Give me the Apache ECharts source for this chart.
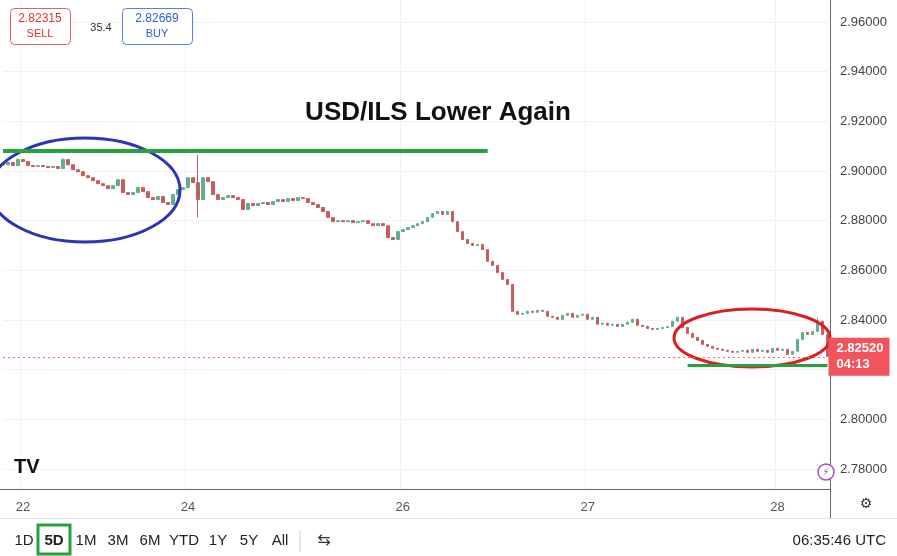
<!DOCTYPE html>
<html><head><meta charset="utf-8">
<script src="https://cdn.jsdelivr.net/npm/echarts@6/dist/echarts.min.js"></script>
<style>html,body{margin:0;padding:0;background:#fff}#c{width:897px;height:556px}</style>
</head><body><div id="c"></div>
<script>
const closes = [2.9025,2.9034,2.9022,2.9046,2.9038,2.9022,2.9018,2.9022,2.9018,2.9014,
2.9018,2.9010,2.9046,2.9025,2.9005,2.8997,2.8981,2.8973,2.8961,2.8949,
2.8941,2.8929,2.8941,2.8965,2.8913,2.8905,2.8913,2.8933,2.8917,2.8893,
2.8885,2.8897,2.8873,2.8865,2.8905,2.8925,2.8933,2.8973,2.8953,2.8885,
2.8973,2.8957,2.8905,2.8885,2.8893,2.8901,2.8893,2.8885,2.8845,2.8869,
2.8861,2.8869,2.8873,2.8865,2.8877,2.8885,2.8877,2.8889,2.8881,2.8893,
2.8889,2.8873,2.8865,2.8853,2.8837,2.8813,2.8796,2.8800,2.8796,2.8800,
2.8792,2.8796,2.8800,2.8788,2.8780,2.8788,2.8780,2.8732,2.8724,2.8756,
2.8764,2.8772,2.8780,2.8788,2.8796,2.8813,2.8829,2.8837,2.8825,2.8837,
2.8796,2.8756,2.8724,2.8708,2.8700,2.8704,2.8684,2.8636,2.8620,2.8591,
2.8563,2.8543,2.8435,2.8423,2.8427,2.8435,2.8431,2.8439,2.8435,2.8415,
2.8411,2.8403,2.8419,2.8427,2.8411,2.8419,2.8423,2.8403,2.8411,2.8383,
2.8387,2.8379,2.8383,2.8374,2.8383,2.8391,2.8403,2.8379,2.8374,2.8366,
2.8362,2.8366,2.8370,2.8374,2.8395,2.8411,2.8370,2.8346,2.8330,2.8318,
2.8302,2.8294,2.8286,2.8282,2.8278,2.8274,2.8270,2.8274,2.8278,2.8270,
2.8282,2.8274,2.8278,2.8270,2.8286,2.8278,2.8282,2.8262,2.8274,2.8322,
2.8350,2.8342,2.8354,2.8395,2.8342,2.8254];
const firstOpen = 2.9030;
const spikes = {39:[2.8813,2.9066], 12:[2.9040,2.9052], 3:[2.9018,2.9052], 163:[2.8380,2.8410]};
const dayLabels = {4:'22',37:'24',80:'26',117:'27',155:'28'};
const yTicks = [2.78,2.80,2.82,2.84,2.86,2.88,2.90,2.92,2.94,2.96];
const resistance = 2.9082, support = 2.8218, lastPrice = 2.8252;

const cats = closes.map((_,i)=>i);
const N = closes.length - 1;
const ohlc = closes.map((c,i)=>{
  const o = i===0?firstOpen:closes[i-1];
  let lo=Math.min(o,c), hi=Math.max(o,c);
  if(spikes[i]){lo=Math.min(lo,spikes[i][0]);hi=Math.max(hi,spikes[i][1]);}
  return [o,c,lo,hi];
});
const chart = echarts.init(document.getElementById('c'));
const F='Liberation Sans, Arial, sans-serif';
const NF='"Liberation Sans Narrow", "Liberation Sans", sans-serif';
const gridLines = yTicks.map(v=>[{coord:[0,v],lineStyle:{color:'#eef1f5',width:1,type:'solid'},label:{show:false}},{coord:[N,v]}]);
chart.setOption({
  animation:false,
  grid:{left:0,right:67,top:0,height:489},
  xAxis:{type:'category',data:cats,boundaryGap:true,
    axisLine:{show:true,lineStyle:{color:'#666'}},axisTick:{show:false},
    axisLabel:{interval:0,formatter:v=>dayLabels[v]||'',color:'#555',fontSize:13,fontFamily:F,margin:12},
    splitLine:{show:true,interval:(i)=>dayLabels[i]!==undefined,lineStyle:{color:'#eef1f5'}}},
  yAxis:{type:'value',position:'right',min:2.77197,max:2.96884,
    axisLine:{show:true,lineStyle:{color:'#666'}},axisTick:{show:false},
    axisLabel:{customValues:yTicks,formatter:v=>v.toFixed(5),color:'#444',fontSize:13,fontFamily:F,margin:10},
    splitLine:{show:false}},
  series:[
    {type:'line',data:[],silent:true,z:1,
     markLine:{symbol:'none',silent:true,animation:false,z:1,data:gridLines}},
    {type:'candlestick',data:ohlc,barWidth:3,z:3,
    itemStyle:{color:'#5fae8c',color0:'#c45f5f',borderColor:'#5fae8c',borderColor0:'#c45f5f',borderWidth:1},
    markLine:{symbol:'none',silent:true,animation:false,z:20,data:[
      [{coord:[0,resistance],lineStyle:{color:'#27a33d',width:4,type:'solid'},label:{show:false}},{coord:[97,resistance]}],
      [{coord:[137,support],lineStyle:{color:'#27a33d',width:3,type:'solid'},label:{show:false}},{coord:[N,support]}],
      [{coord:[0,lastPrice],lineStyle:{color:'#f26b6b',width:1,type:[2,3]},
       label:{show:true,position:'end',formatter:'2.82520\n04:13',color:'#fff',backgroundColor:'#f2545b',
         padding:[3,6,3,8],fontSize:13,fontWeight:'bold',fontFamily:F,lineHeight:16,distance:1}},{coord:[N,lastPrice]}]
    ]}}],
  graphic:[
    {type:'ellipse',shape:{cx:85,cy:190,rx:95,ry:52},style:{fill:'none',stroke:'#2b35b5',lineWidth:3},z:10},
    {type:'ellipse',shape:{cx:752,cy:338,rx:78,ry:29},style:{fill:'none',stroke:'#dd1c24',lineWidth:3},z:10},
    {type:'text',style:{x:438,y:113,text:'USD/ILS Lower Again',font:'bold 26px '+F,fill:'#111',align:'center',verticalAlign:'middle'},z:10},
    {type:'rect',shape:{x:10.5,y:8.5,width:60,height:36,r:4},style:{fill:'#fff',stroke:'#e06060',lineWidth:1},z:10},
    {type:'text',style:{x:40,y:19,text:'2.82315',font:'12px '+F,fill:'#d33',align:'center',verticalAlign:'middle'},z:11},
    {type:'text',style:{x:40,y:34,text:'SELL',font:'11px '+F,fill:'#d33',align:'center',verticalAlign:'middle'},z:11},
    {type:'text',style:{x:101,y:28,text:'35.4',font:'11px '+F,fill:'#333',align:'center',verticalAlign:'middle'},z:11},
    {type:'rect',shape:{x:122.5,y:8.5,width:70,height:36,r:4},style:{fill:'#fff',stroke:'#5a7de0',lineWidth:1},z:10},
    {type:'text',style:{x:157,y:19,text:'2.82669',font:'12px '+F,fill:'#2a5bd7',align:'center',verticalAlign:'middle'},z:11},
    {type:'text',style:{x:157,y:34,text:'BUY',font:'11px '+F,fill:'#2a5bd7',align:'center',verticalAlign:'middle'},z:11},
    {type:'text',style:{x:14,y:467,text:'TV',font:'bold 20px '+F,fill:'#111',verticalAlign:'middle'},z:11},
    {type:'circle',shape:{cx:826,cy:472,r:8},style:{fill:'#fff',stroke:'#a050c0',lineWidth:1.5},z:11},
    {type:'text',style:{x:826,y:472,text:'⚡',font:'10px DejaVu Sans',fill:'#a050c0',align:'center',verticalAlign:'middle'},z:12},
    {type:'line',shape:{x1:830.5,y1:489,x2:830.5,y2:518},style:{stroke:'#666',lineWidth:1},z:11},
    {type:'text',style:{x:866,y:504,text:'⚙',font:'14px DejaVu Sans',fill:'#333',align:'center',verticalAlign:'middle'},z:11},
    {type:'line',shape:{x1:0,y1:518.5,x2:897,y2:518.5},style:{stroke:'#e0e0e0',lineWidth:1},z:11},
    {type:'rect',shape:{x:38,y:525,width:32,height:29},style:{fill:'none',stroke:'#27a33d',lineWidth:3},z:11},
    ...['1D','5D','1M','3M','6M','YTD','1Y','5Y','All'].map((t,i)=>({type:'text',style:{x:[24,54,86,118,150,184,218,249,280][i],y:541,text:t,font:(t==='5D'?'bold ':'')+'15px '+NF,fill:'#222',align:'center',verticalAlign:'middle'},z:11})),
    {type:'line',shape:{x1:300,y1:530,x2:300,y2:552},style:{stroke:'#ccc'},z:11},
    {type:'text',style:{x:324,y:541,text:'⇆',font:'16px DejaVu Sans',fill:'#333',align:'center',verticalAlign:'middle'},z:11},
    {type:'text',style:{x:886,y:541,text:'06:35:46 UTC',font:'15px '+NF,fill:'#222',align:'right',verticalAlign:'middle'},z:11}
  ]
});
</script></body></html>
